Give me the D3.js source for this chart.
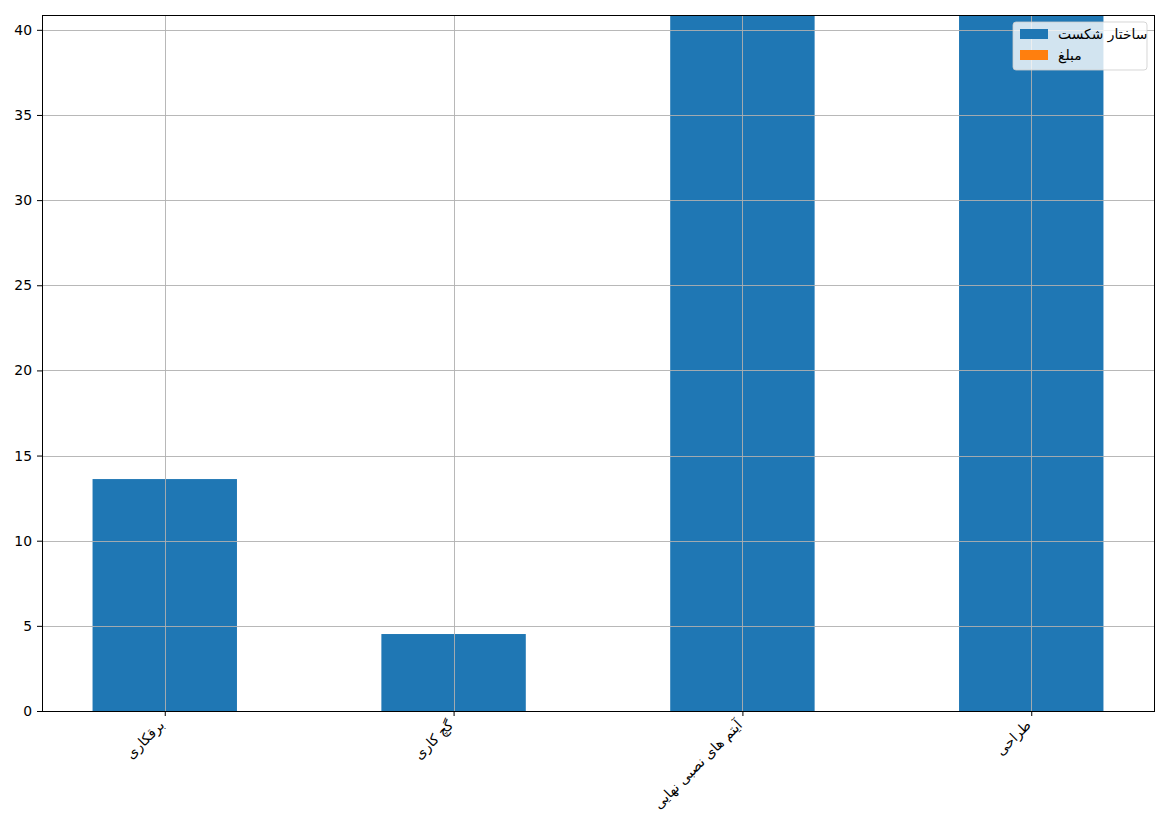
<!DOCTYPE html>
<html>
<head>
<meta charset="utf-8">
<script src="https://cdn.jsdelivr.net/npm/d3@7"></script>
<style>
  body { margin: 0; background: #fff; }
  svg text { font-family: "DejaVu Sans", sans-serif; }
</style>
</head>
<body>
<div id="chart"></div>
<script>
// categories and series (stacked bars)
var categories = ["برقکاری", "گچ کاری", "آیتم های نصبی نهایی", "طراحی"];
var breakdown = [13.62, 4.52, 120, 95];   // ساختار شکست, last two run past the top
var amount = [0, 0, 0, 0];                // مبلغ
var seriesNames = ["ساختار شکست", "مبلغ"];
var seriesColors = ["#1f77b4", "#ff7f0e"];
var yTicks = [0, 5, 10, 15, 20, 25, 30, 35, 40];

var width = 1169, height = 827;
var margin = { top: 15, right: 15, bottom: 116, left: 42 };
var plotW = width - margin.left - margin.right,
    plotH = height - margin.top - margin.bottom;

var svg = d3.select("#chart").append("svg")
  .attr("width", width)
  .attr("height", height);

var g = svg.append("g")
  .attr("transform", "translate(" + margin.left + "," + margin.top + ")");

// matplotlib-like linear x: bars at 0..n-1, width 0.5, 5% margins
var x = d3.scaleLinear()
  .domain([-0.425, categories.length - 1 + 0.425])
  .range([0, plotW]);

var y = d3.scaleLinear()
  .domain([0, 40.87])
  .range([plotH, 0]);

g.append("clipPath").attr("id", "clip")
  .append("rect").attr("width", plotW).attr("height", plotH);

var stacked = categories.map(function(c, i) {
  return { name: c, i: i, b: breakdown[i], a: amount[i] };
});

var bars = g.append("g").attr("clip-path", "url(#clip)");

bars.selectAll("rect.blue")
  .data(stacked)
  .enter().append("rect")
  .attr("class", "blue")
  .attr("x", function(d) { return x(d.i - 0.25); })
  .attr("width", function(d) { return x(d.i + 0.25) - x(d.i - 0.25); })
  .attr("y", function(d) { return y(d.b); })
  .attr("height", function(d) { return y(0) - y(d.b); })
  .attr("fill", seriesColors[0]);

bars.selectAll("rect.orange")
  .data(stacked)
  .enter().append("rect")
  .attr("class", "orange")
  .attr("x", function(d) { return x(d.i - 0.25); })
  .attr("width", function(d) { return x(d.i + 0.25) - x(d.i - 0.25); })
  .attr("y", function(d) { return y(d.b + d.a); })
  .attr("height", function(d) { return y(d.b) - y(d.b + d.a); })
  .attr("fill", seriesColors[1]);

// grid drawn over the bars
var grid = g.append("g").attr("class", "grid");
grid.selectAll("line.h")
  .data(yTicks)
  .enter().append("line")
  .attr("x1", 0).attr("x2", plotW)
  .attr("y1", function(d) { return Math.round(y(d)) + 0.5; })
  .attr("y2", function(d) { return Math.round(y(d)) + 0.5; })
  .attr("stroke", "#b0b0b0").attr("stroke-width", 0.9);
grid.selectAll("line.v")
  .data(stacked)
  .enter().append("line")
  .attr("y1", 0).attr("y2", plotH)
  .attr("x1", function(d) { return Math.round(x(d.i)) + 0.5; })
  .attr("x2", function(d) { return Math.round(x(d.i)) + 0.5; })
  .attr("stroke", "#b0b0b0").attr("stroke-width", 0.9);

// frame
g.append("rect")
  .attr("x", 0.5).attr("y", 0.5)
  .attr("width", plotW).attr("height", plotH)
  .attr("fill", "none").attr("stroke", "#000").attr("stroke-width", 1);

// y axis
var yAxis = d3.axisLeft(y).tickValues(yTicks).tickSize(5).tickPadding(5);
var yg = g.append("g").call(yAxis);
yg.select(".domain").remove();
yg.selectAll("text").style("font-size", "13.9px").attr("fill", "#000");

// x axis
var xAxis = d3.axisBottom(x)
  .tickValues(d3.range(categories.length))
  .tickSize(5)
  .tickFormat(function(d) { return categories[d]; });
var xg = g.append("g")
  .attr("transform", "translate(0," + plotH + ")")
  .call(xAxis);
xg.select(".domain").remove();
xg.selectAll("text")
  .style("font-size", "13.9px")
  .attr("fill", "#000")
  .attr("y", 0).attr("dy", 0)
  .style("text-anchor", "end")
  .attr("transform", "translate(0,15) rotate(-45)");

// legend
var legend = svg.append("g")
  .attr("transform", "translate(1013,22)");
legend.append("rect")
  .attr("width", 134).attr("height", 48)
  .attr("rx", 3)
  .attr("fill", "#fff").attr("fill-opacity", 0.8)
  .attr("stroke", "#cccccc").attr("stroke-opacity", 0.8);
seriesNames.forEach(function(name, i) {
  legend.append("rect")
    .attr("x", 7).attr("y", 7 + i * 21)
    .attr("width", 28).attr("height", 10)
    .attr("fill", seriesColors[i]);
  legend.append("text")
    .attr("x", 45).attr("y", 12 + i * 21)
    .attr("dy", "0.35em")
    .style("font-size", "13.9px")
    .text(name);
});
</script>
</body>
</html>
